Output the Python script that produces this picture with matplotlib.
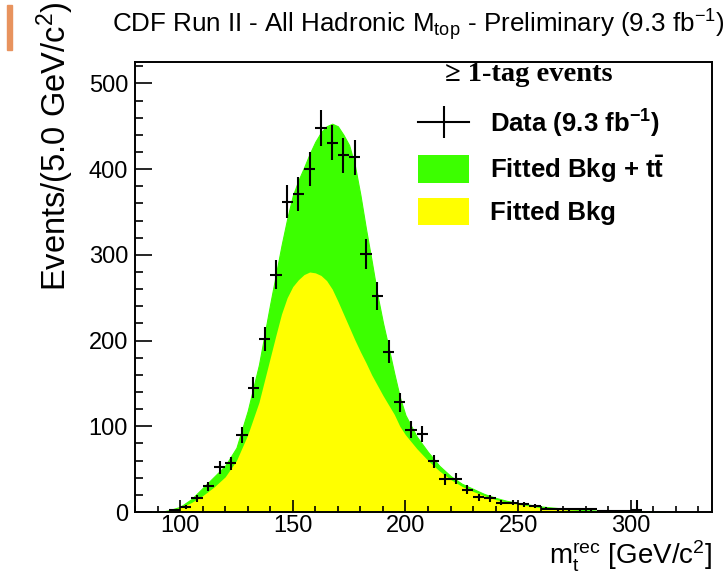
import numpy as np
import matplotlib
matplotlib.use("Agg")
import matplotlib.pyplot as plt
from matplotlib.lines import Line2D
from matplotlib.patches import Patch, Rectangle

plt.rcParams["font.family"] = ["Liberation Sans", "DejaVu Sans"]
plt.rcParams["mathtext.fontset"] = "custom"
plt.rcParams["mathtext.rm"] = "Liberation Sans"
plt.rcParams["mathtext.it"] = "Liberation Sans:italic"
plt.rcParams["mathtext.bf"] = "Liberation Sans:bold"

# reconstructed top mass, 5 GeV bins
mass = [97.5, 102.5, 107.5, 112.5, 117.5, 122.5, 127.5, 132.5, 137.5, 142.5,
        147.5, 152.5, 157.5, 162.5, 167.5, 172.5, 177.5, 182.5, 187.5, 192.5,
        197.5, 202.5, 207.5, 212.5, 217.5, 222.5, 227.5, 232.5, 237.5, 242.5,
        247.5, 252.5, 257.5, 262.5, 267.5, 272.5, 277.5, 282.5,
        287.5, 292.5, 297.5, 302.5]
counts = [2, 6, 16, 30, 52, 57, 90, 145, 202, 277,
          362, 371, 400, 448, 431, 416, 414, 301, 252, 187,
          128, 96, 91, 59, 38, 39, 26, 17, 16, 11,
          11, 9, 7, 4, 3, 3, 3, 3,
          1, 1, 1, 2]
errors = [1.4, 2.4, 4.0, 5.5, 7.2, 7.5, 9.5, 12.0, 14.2, 16.6,
          19.0, 19.3, 20.0, 21.2, 20.8, 20.4, 20.3, 17.3, 15.9, 13.7,
          11.3, 9.8, 9.5, 7.7, 6.2, 6.2, 5.1, 4.1, 4.0, 3.3,
          3.3, 3.0, 2.6, 2.0, 1.7, 1.7, 1.7, 1.7,
          1.0, 1.0, 1.0, 12.0]

# fitted shapes: background and background + ttbar
fit_mass = [88, 92, 95, 100, 105, 110, 115, 120, 125, 130, 135, 140, 142.5, 145,
            147.5, 150, 152.5, 155, 157.5, 160, 162.5, 165, 167.5, 170, 172.5,
            175, 177.5, 180, 182.5, 185, 187.5, 190, 192.5, 195, 197.5, 200,
            205, 210, 215, 220, 225, 230, 235, 240, 245, 250, 260, 270, 280,
            290, 300, 310, 315]
fit_total = [0, 0.5, 2, 6, 15, 28, 41, 54, 75, 118, 172, 243, 277, 311,
             342, 369, 387, 402, 418, 432, 443, 450, 453, 450, 440,
             428, 405, 370, 330, 293, 254, 221, 192, 162, 134, 113,
             88, 70, 54, 42, 33, 27, 21, 16.5, 13, 10.5, 6.5, 4, 2.2,
             1.3, 0.8, 0.3, 0]
fit_bkg = [0, 0.5, 2, 5, 11, 19, 29, 41, 60, 90, 128, 180, 206, 231,
           250, 263, 271, 277, 280, 279, 276, 270, 260, 246, 231,
           216, 201, 187, 174, 160, 148, 136, 125, 114, 100, 90,
           74, 60, 48, 38, 30, 24, 19, 14.5, 11.5, 9, 5, 2.8, 1.5,
           0.3, 0, 0, 0]

GREEN = "#3cff00"
YELLOW = "#ffff00"

fig = plt.figure(figsize=(7.27, 5.74), dpi=100)
ax = fig.add_axes([0.1857, 0.108, 0.7937, 0.784])

ax.fill_between(fit_mass, fit_total, color=GREEN, lw=0.8)
ax.fill_between(fit_mass, fit_bkg, color=YELLOW, lw=0)
ax.errorbar(mass, counts, xerr=2.5, yerr=errors, fmt="none",
            ecolor="black", elinewidth=1.5, capsize=0, zorder=5)

ax.set_xlim(80, 336)
ax.set_ylim(0, 525)
ax.set_xticks([100, 150, 200, 250, 300])
ax.set_xticks(np.arange(80, 340, 10), minor=True)
ax.set_yticks([0, 100, 200, 300, 400, 500])
ax.set_yticks(np.arange(0, 525, 20), minor=True)
ax.tick_params(which="both", direction="in", top=False, right=False,
               labelsize=17, width=1.2)
ax.tick_params(axis="y", which="major", length=12, pad=5)
ax.tick_params(axis="y", which="minor", length=6)
ax.tick_params(axis="x", which="major", length=9, pad=2)
ax.tick_params(axis="x", which="minor", length=4.5)
for s in ax.spines.values():
    s.set_linewidth(1.4)

handles = [Line2D([], [], color="black", lw=1.5, marker="|", markersize=23,
                  markeredgewidth=1.5),
           Patch(facecolor=GREEN, edgecolor="none"),
           Patch(facecolor=YELLOW, edgecolor="none")]
labels = [r"Data (9.3 fb$^{\mathbf{-1}}$)",
          r"Fitted Bkg + $\mathbf{t\bar{t}}$",
          "Fitted Bkg"]
ax.legend(handles, labels, loc="upper left",
          bbox_to_anchor=((418 - 135) / 577, 1 - (108 - 62) / 450),
          frameon=False, borderpad=0, borderaxespad=0,
          handlelength=2.0, handleheight=1.25, handletextpad=0.8,
          labelspacing=0.5,
          prop={"family": "Liberation Sans", "weight": "bold", "size": 18.5})
ax.text((445 - 135) / 577, 1 - (75 - 62) / 450, "\u2265 1-tag events",
        transform=ax.transAxes, ha="left", va="center",
        family="Liberation Serif", weight="bold", fontsize=20.5)

fig.text(0.576, 0.944, r"CDF Run II - All Hadronic M$_{\mathrm{top}}$ - Preliminary (9.3 fb$^{\mathrm{-1}}$)",
         ha="center", va="baseline", fontsize=18.7)
fig.text(55 / 727, 1 - 291 / 574, r"Events/(5.0 GeV/c$^{\mathrm{2}}$)",
         rotation=90, ha="center", va="bottom", fontsize=23.5)
fig.text(712 / 727, 1 - 556 / 574,
         r"m$_{\mathrm{t}}^{\mathrm{rec}}$ [GeV/c$^{\mathrm{2}}$]",
         ha="right", va="center", fontsize=20)

# slide accent bar
fig.patches.append(Rectangle((7 / 727, 1 - 50 / 574), 5 / 727, 45 / 574,
                             transform=fig.transFigure, color="#e8935e"))

fig.savefig("out.png", dpi=100)
